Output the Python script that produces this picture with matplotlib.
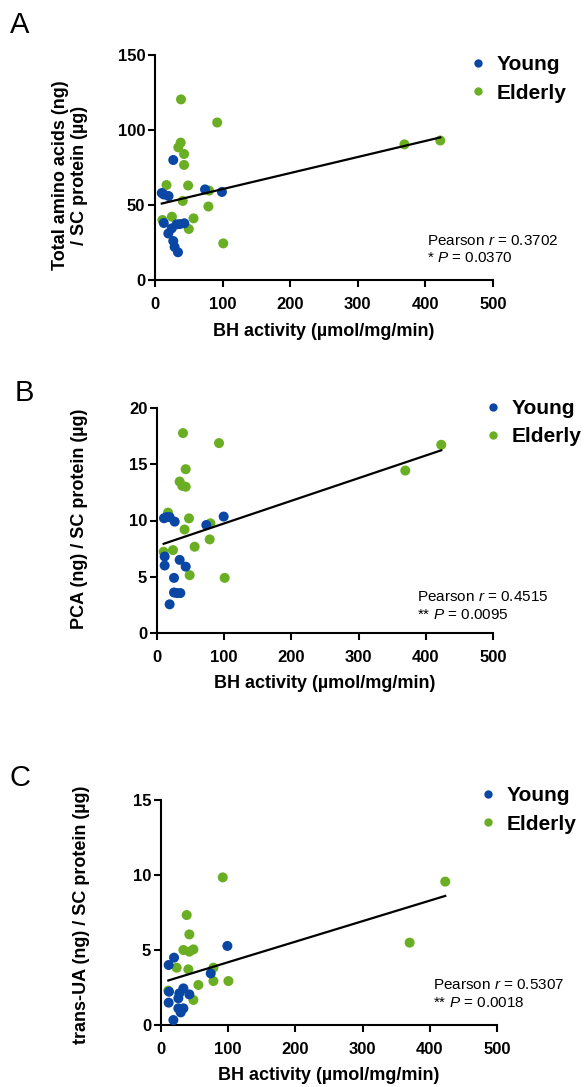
import numpy as np
import matplotlib
matplotlib.use("Agg")
import matplotlib.pyplot as plt
from matplotlib.lines import Line2D

plt.rcParams['font.family'] = ['Liberation Sans', 'DejaVu Sans']
plt.rcParams['mathtext.fontset'] = 'custom'
plt.rcParams['mathtext.it'] = 'Liberation Sans:italic'
plt.rcParams['mathtext.rm'] = 'Liberation Sans'

BLUE = '#0a47a5'
GREEN = '#6aaf23'

# ---------------- data ----------------
a_young_x = [10, 13, 20, 13, 27, 19.7, 24.7, 27, 29, 34, 32, 37, 43.4, 74, 99]
a_young_y = [58, 57, 56, 38, 80, 31, 34.4, 26, 22, 18.5, 37.1, 37.3, 37.8, 60.4, 58.7]
a_eld_x = [38.5, 92, 38, 34.5, 43, 43, 17, 49, 41, 80, 79, 25, 11, 57, 50, 101, 369, 422]
a_eld_y = [120.4, 105, 91.6, 88.4, 84, 76.7, 63.3, 63, 52.7, 59.6, 49, 42.2, 40, 41.1, 34, 24.4, 90.4, 93]
a_fit = (0.107, 49.9)

b_young_x = [10.4, 14, 18.8, 26.3, 11.4, 11.4, 18.8, 25.3, 25.3, 29.8, 34.7, 33.7, 42.7, 73.4, 99.2]
b_young_y = [10.2, 10.3, 10.3, 9.9, 6.8, 6.0, 2.55, 4.9, 3.6, 3.55, 3.55, 6.5, 5.9, 9.6, 10.35]
b_eld_x = [38.7, 92.3, 42.7, 33.7, 37.7, 42.7, 16.4, 47.6, 41, 79.4, 78.4, 23.8, 9.9, 56, 48.6, 100.7, 369.5, 423]
b_eld_y = [17.77, 16.88, 14.56, 13.46, 13.08, 13.0, 10.7, 10.19, 9.2, 9.75, 8.32, 7.37, 7.22, 7.67, 5.14, 4.9, 14.44, 16.73]
b_fit = (0.02012, 7.73)

c_young_x = [11.4, 19.4, 11.9, 11.4, 18.4, 25.8, 27.3, 25.8, 29.3, 33.3, 33.3, 42.2, 74, 98.8]
c_young_y = [4.0, 4.49, 2.22, 1.49, 0.33, 1.78, 2.11, 1.11, 0.84, 1.11, 2.44, 2.04, 3.44, 5.27]
c_eld_x = [91.9, 38.2, 42.2, 33.3, 42.2, 48.2, 23.3, 40.7, 78, 78, 100.3, 55.6, 10.9, 48.2, 370, 423]
c_eld_y = [9.84, 7.33, 6.04, 5.0, 4.89, 5.04, 3.82, 3.71, 3.82, 2.93, 2.93, 2.67, 2.29, 1.67, 5.49, 9.56]
c_fit = (0.01368, 2.82)

x_ticks = [0, 100, 200, 300, 400, 500]
xlabel = 'BH activity (µmol/mg/min)'
ylabels = ['Total amino acids (ng)\n/ SC protein (µg)',
           'PCA (ng) / SC protein (µg)',
           'trans-UA (ng) / SC protein (µg)']
y_ticks = [[0, 50, 100, 150], [0, 5, 10, 15, 20], [0, 5, 10, 15]]
stats_r = ['0.3702', '0.4515', '0.5307']
stats_p = ['* ', '** ', '** ']
stats_pv = ['0.0370', '0.0095', '0.0018']
letters = ['A', 'B', 'C']
groups = ['Young', 'Elderly']

W, H = 586, 1087
fig = plt.figure(figsize=(W / 100, H / 100), dpi=100)

# pixel layout: left, right, top, bottom
boxes = [(155, 493, 55, 280), (157, 493, 408, 633), (161, 497, 800, 1025)]
ylab_x = [70, 80, 82]
ylab_y = [175, 519, 915]
letter_pos = [(20, 25), (24, 393), (20, 778)]
leg_pos = [(471.7, 79), (487, 422.5), (481.5, 810)]
stat_pos = [(427, 240.7, 258), (417, 597, 615), (433, 985, 1003)]

datasets = [
    (a_young_x, a_young_y, a_eld_x, a_eld_y, a_fit),
    (b_young_x, b_young_y, b_eld_x, b_eld_y, b_fit),
    (c_young_x, c_young_y, c_eld_x, c_eld_y, c_fit),
]

def fx(px):
    return px / W

def fy(py):
    return 1 - py / H

for i, (yx, yy, ex, ey, fit) in enumerate(datasets):
    l, r, t, b = boxes[i]
    ax = fig.add_axes([fx(l), fy(b), (r - l) / W, (b - t) / H])
    ax.scatter(ex, ey, s=52, color=GREEN, edgecolors='none', zorder=3, clip_on=False)
    ax.scatter(yx, yy, s=52, color=BLUE, edgecolors='none', zorder=4, clip_on=False)
    allx = np.array(yx + ex)
    xs = np.array([allx.min(), allx.max()])
    ax.plot(xs, fit[0] * xs + fit[1], color='black', lw=1.6, zorder=5)
    ax.set_xlim(0, 500)
    yt = y_ticks[i]
    ax.set_ylim(yt[0], yt[-1])
    ax.set_xticks(x_ticks)
    ax.set_yticks(yt)
    for s in ['top', 'right']:
        ax.spines[s].set_visible(False)
    for s in ['left', 'bottom']:
        ax.spines[s].set_linewidth(1.5)
    ax.tick_params(axis='both', direction='out', length=5, width=1.5,
                   labelsize=12)
    ax.tick_params(axis='x', pad=7.5)
    ax.tick_params(axis='y', pad=2)
    for lab in ax.get_xticklabels() + ax.get_yticklabels():
        lab.set_fontweight('bold')
    ax.set_xlabel(xlabel, fontsize=13, fontweight='bold', va='center')
    ax.xaxis.set_label_coords(0.5, -51 / (b - t))
    ax.set_ylabel(ylabels[i], fontsize=13, fontweight='bold', va='center',
                  linespacing=1.15)
    ax.yaxis.set_label_coords((ylab_x[i] - l) / (r - l), (b - ylab_y[i]) / (b - t))

    # stats
    sx, s1, s2 = stat_pos[i]
    fig.text(fx(sx), fy(s1), 'Pearson $r$ = ' + stats_r[i], fontsize=11,
             ha='left', va='center')
    fig.text(fx(sx), fy(s2), stats_p[i] + '$P$ = ' + stats_pv[i], fontsize=11,
             ha='left', va='center')

    # panel letter
    lx, ly = letter_pos[i]
    fig.text(fx(lx), fy(ly), letters[i], fontsize=21, ha='center', va='center')

    # legend
    handles = [Line2D([], [], marker='o', ls='none', color=BLUE, markersize=6,
                      markeredgewidth=0),
               Line2D([], [], marker='o', ls='none', color=GREEN, markersize=6,
                      markeredgewidth=0)]
    lpx, lpy = leg_pos[i]
    ax.legend(handles, groups, loc='center left',
              bbox_to_anchor=(fx(lpx), fy(lpy)), bbox_transform=fig.transFigure,
              frameon=False, borderpad=0, borderaxespad=0, handlelength=0.6,
              handletextpad=0.6, labelspacing=0.45,
              prop={'size': 15, 'weight': 'bold'})

fig.savefig('out.png', dpi=100)
